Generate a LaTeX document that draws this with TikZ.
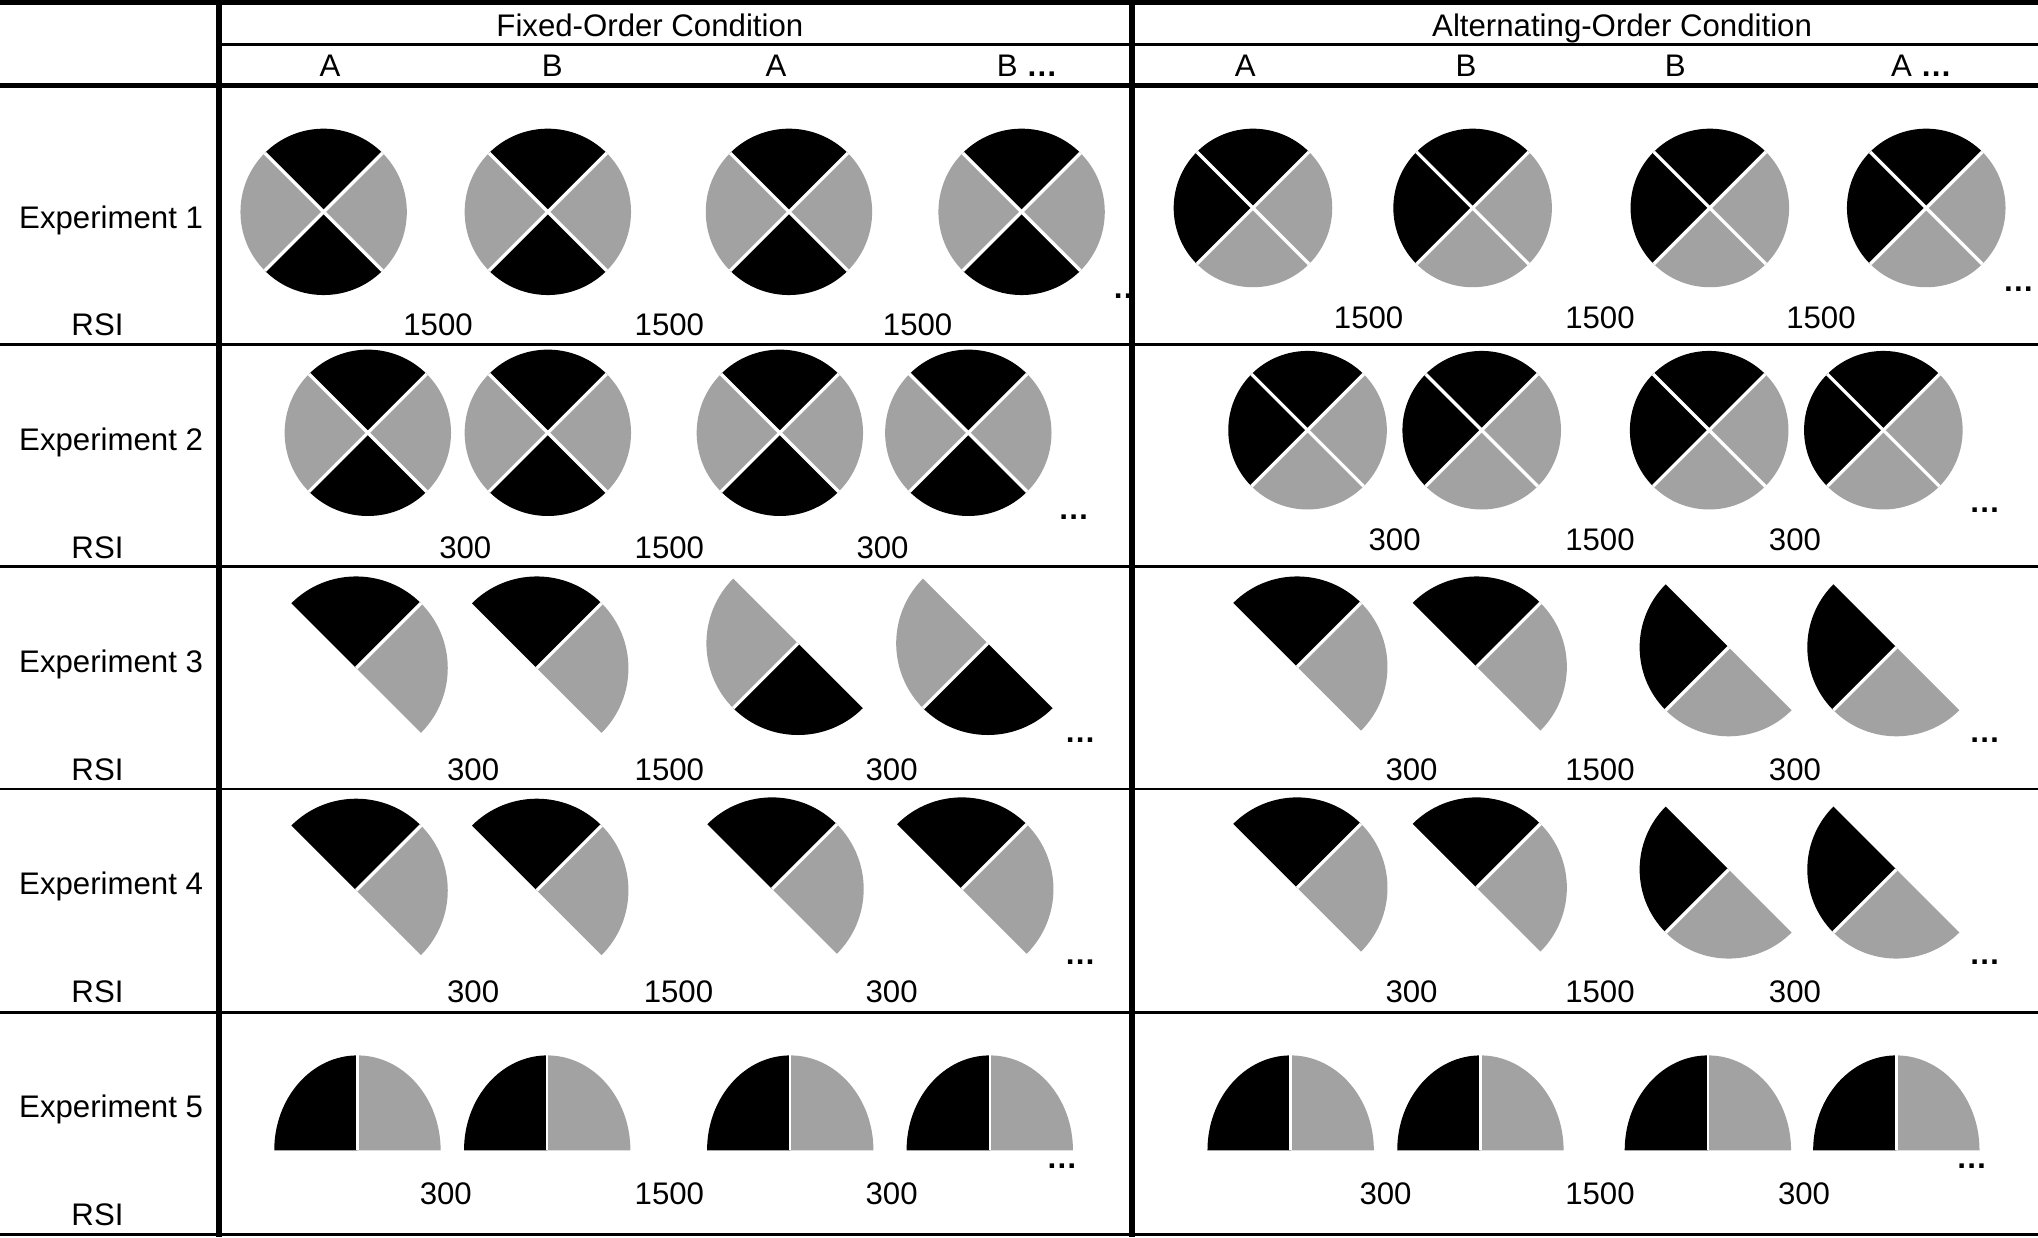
\documentclass[tikz,border=0pt]{standalone}
\usepackage{fontspec}
\setmainfont{Liberation Sans}
\definecolor{patgray}{RGB}{162,162,162}
% sector: cx cy r a1 a2 style (visual angles, y axis points down)
\newcommand\sect[6]{\fill[#6] (#1,#2) -- ++({-(#4)}:#3) arc[start angle={-(#4)}, end angle={-(#5)}, radius=#3] -- cycle;}
\newcommand\fixcirc[3]{%
  \sect{#1}{#2}{#3}{45}{135}{blk}\sect{#1}{#2}{#3}{225}{315}{blk}%
  \sect{#1}{#2}{#3}{135}{225}{gry}\sect{#1}{#2}{#3}{-45}{45}{gry}%
  \draw[gap] (#1,#2) ++(45:#3) -- ++(225:{2*#3});
  \draw[gap] (#1,#2) ++(135:#3) -- ++(315:{2*#3});}
\newcommand\altcirc[3]{%
  \sect{#1}{#2}{#3}{45}{135}{blk}\sect{#1}{#2}{#3}{135}{225}{blk}%
  \sect{#1}{#2}{#3}{225}{315}{gry}\sect{#1}{#2}{#3}{-45}{45}{gry}%
  \draw[gap] (#1,#2) ++(45:#3) -- ++(225:{2*#3});
  \draw[gap] (#1,#2) ++(135:#3) -- ++(315:{2*#3});}
% black top, grey right
\newcommand\wedgeTR[3]{%
  \sect{#1}{#2}{#3}{45}{135}{blk}\sect{#1}{#2}{#3}{-45}{45}{gry}%
  \draw[gap] (#1,#2) -- ++(-45:#3);}
% grey left, black bottom
\newcommand\wedgeGB[3]{%
  \sect{#1}{#2}{#3}{135}{225}{gry}\sect{#1}{#2}{#3}{225}{315}{blk}%
  \draw[gap] (#1,#2) -- ++(135:#3);}
% black left, grey bottom
\newcommand\wedgeBG[3]{%
  \sect{#1}{#2}{#3}{135}{225}{blk}\sect{#1}{#2}{#3}{225}{315}{gry}%
  \draw[gap] (#1,#2) -- ++(135:#3);}
% half disc: black left quarter, grey right quarter
\newcommand\halfdisc[2]{%
  \fill[blk] (#1,#2) -- ++(180:64) arc[start angle=180, end angle=270, x radius=64, y radius=73] -- cycle;
  \fill[gry] (#1,#2) -- ++(0:64) arc[start angle=0, end angle=-90, x radius=64, y radius=73] -- cycle;
  \draw[gap, line width=0.9pt] (#1,#2) -- ++(0,-73);}
\begin{document}
\begin{tikzpicture}[x=0.5pt,y=-0.5pt,
  txt/.style={font=\fontsize{12}{14}\selectfont, anchor=base, inner sep=0pt, outer sep=0pt},
  dots/.style={font=\fontsize{12}{14}\selectfont\bfseries, anchor=base west, inner sep=0pt, outer sep=0pt},
  thickrule/.style={line width=2pt},
  thinrule/.style={line width=1.1pt},
  blk/.style={fill=black},
  gry/.style={fill=patgray},
  gap/.style={draw=white, line width=1.25pt}]
\useasboundingbox (0,0) rectangle (1568,952);
\fill[white] (0,0) rectangle (1568,952);

% ---------- Experiment 1 ----------
\fixcirc{249}{163}{64}
\fixcirc{421.5}{163}{64}
\fixcirc{607}{163}{64}
\fixcirc{786}{163}{64}
\altcirc{964}{160}{61}
\altcirc{1133}{160}{61}
\altcirc{1315.5}{160}{61}
\altcirc{1482}{160}{61}
% ---------- Experiment 2 ----------
\fixcirc{283}{333}{64}
\fixcirc{421.5}{333}{64}
\fixcirc{600}{333}{64}
\fixcirc{745}{333}{64}
\altcirc{1006}{331}{61}
\altcirc{1140}{331}{61}
\altcirc{1315}{331}{61}
\altcirc{1449}{331}{61}
% ---------- Experiment 3 ----------
\wedgeTR{274}{514}{70.5}
\wedgeTR{413}{514}{70.5}
\wedgeGB{614}{495}{70.5}
\wedgeGB{760}{495}{70.5}
\wedgeTR{998}{513}{69.5}
\wedgeTR{1136}{513}{69.5}
\wedgeBG{1330}{498}{68.5}
\wedgeBG{1459}{498}{68.5}
% ---------- Experiment 4 ----------
\wedgeTR{274}{685}{70.5}
\wedgeTR{413}{685}{70.5}
\wedgeTR{594}{684}{70.5}
\wedgeTR{740}{684}{70.5}
\wedgeTR{998}{683}{69.5}
\wedgeTR{1136}{683}{69.5}
\wedgeBG{1330}{669}{68.5}
\wedgeBG{1459}{669}{68.5}
% ---------- Experiment 5 ----------
\halfdisc{275}{885}
\halfdisc{421}{885}
\halfdisc{608}{885}
\halfdisc{761.5}{885}
\halfdisc{993}{885}
\halfdisc{1139}{885}
\halfdisc{1314}{885}
\halfdisc{1459}{885}

% ---------- header ----------
\node[txt] (fixhead) at (500,28) {Fixed-Order Condition};
\node[txt] (althead) at (1248,28) {Alternating-Order Condition};
\node[txt] (fa1) at (254,59) {A};
\node[txt] (fb1) at (425,59) {B};
\node[txt] (fa2) at (597,59) {A};
\node[txt, anchor=base west] (fb2) at (767,59) {B \textbf{…}};
\node[txt] (aa1) at (958,59) {A};
\node[txt] (ab1) at (1128,59) {B};
\node[txt] (ab2) at (1289,59) {B};
\node[txt, anchor=base west] (aa2) at (1455,59) {A \textbf{…}};

% ---------- row labels ----------
\node[txt] (e1) at (85.5,175.5) {Experiment 1};
\node[txt] (r1) at (75,258.5) {RSI};
\node[txt] (e2) at (85.5,346.5) {Experiment 2};
\node[txt] (r2) at (75,429.5) {RSI};
\node[txt] (e3) at (85.5,517.5) {Experiment 3};
\node[txt] (r3) at (75,600.5) {RSI};
\node[txt] (e4) at (85.5,688.5) {Experiment 4};
\node[txt] (r4) at (75,771.5) {RSI};
\node[txt] (e5) at (85.5,859.5) {Experiment 5};
\node[txt] (r5) at (75,942.5) {RSI};

% ---------- RSI values ----------
\node[txt] (n11) at (337,258.5) {1500};
\node[txt] (n12) at (515,258.5) {1500};
\node[txt] (n13) at (706,258.5) {1500};
\node[txt] (m11) at (1053,252.5) {1500};
\node[txt] (m12) at (1231,252.5) {1500};
\node[txt] (m13) at (1401,252.5) {1500};

\node[txt] (n21) at (358,429.5) {300};
\node[txt] (n22) at (515,429.5) {1500};
\node[txt] (n23) at (679,429.5) {300};
\node[txt] (m21) at (1073,423.5) {300};
\node[txt] (m22) at (1231,423.5) {1500};
\node[txt] (m23) at (1381,423.5) {300};

\node[txt] (n31) at (364,600.5) {300};
\node[txt] (n32) at (515,600.5) {1500};
\node[txt] (n33) at (686,600.5) {300};
\node[txt] (m31) at (1086,600.5) {300};
\node[txt] (m32) at (1231,600.5) {1500};
\node[txt] (m33) at (1381,600.5) {300};

\node[txt] (n41) at (364,771.5) {300};
\node[txt] (n42) at (522,771.5) {1500};
\node[txt] (n43) at (686,771.5) {300};
\node[txt] (m41) at (1086,771.5) {300};
\node[txt] (m42) at (1231,771.5) {1500};
\node[txt] (m43) at (1381,771.5) {300};

\node[txt] (n51) at (343,926.5) {300};
\node[txt] (n52) at (515,926.5) {1500};
\node[txt] (n53) at (686,926.5) {300};
\node[txt] (m51) at (1066,926.5) {300};
\node[txt] (m52) at (1231,926.5) {1500};
\node[txt] (m53) at (1388,926.5) {300};

% ---------- continuation dots ----------
\begin{scope}
  \clip (170,0) rectangle (869,952);
  \node[dots] (d1f) at (856,230) {…};
\end{scope}
\node[dots] (d1a) at (1541,224) {…};
\node[dots] (d2f) at (814,400) {…};
\node[dots] (d2a) at (1515,394) {…};
\node[dots] (d3f) at (819,571) {…};
\node[dots] (d3a) at (1515,571) {…};
\node[dots] (d4f) at (819,742) {…};
\node[dots] (d4a) at (1515,742) {…};
\node[dots] (d5f) at (805,899) {…};
\node[dots] (d5a) at (1505,899) {…};

% ---------- table rules ----------
\draw[thickrule] (0,2) -- (1568,2);
\draw[thinrule] (168,34) -- (1568,34);
\draw[thickrule] (0,66) -- (1568,66);
\draw[thinrule] (0,265) -- (1568,265);
\draw[thinrule] (0,436) -- (1568,436);
\draw[thinrule] (0,607) -- (1568,607);
\draw[thinrule] (0,779) -- (1568,779);
\draw[thinrule] (0,949.5) -- (1568,949.5);
\draw[thickrule] (168.5,0) -- (168.5,952);
\draw[thickrule] (871,0) -- (871,952);
\end{tikzpicture}
\end{document}
